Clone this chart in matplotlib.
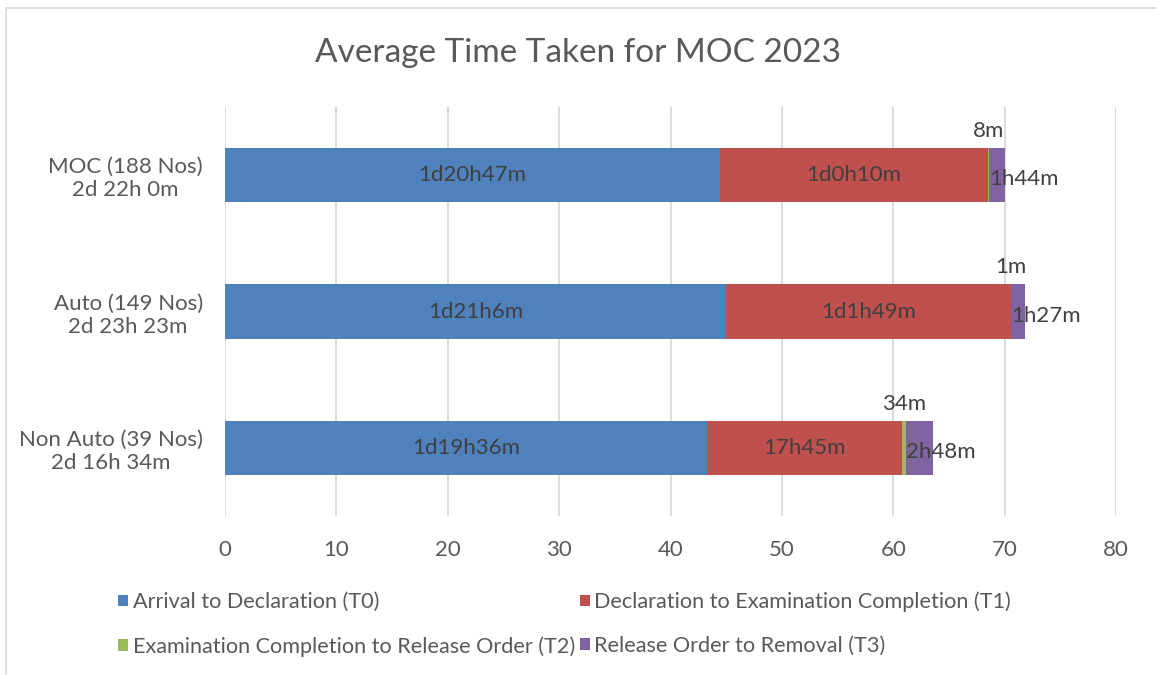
import matplotlib
matplotlib.use("Agg")
import matplotlib.pyplot as plt
from matplotlib.patches import Patch, Rectangle

plt.rcParams['font.family'] = ['Lato', 'DejaVu Sans']

# Data (hours)
categories = ["MOC (188 Nos)\n2d 22h 0m", "Auto (149 Nos)\n2d 23h 23m", "Non Auto (39 Nos)\n2d 16h 34m"]
t0 = [44.43, 45.0, 43.3]
t1 = [24.07, 25.53, 17.5]
t2 = [0.13, 0.02, 0.35]
t3 = [1.37, 1.3, 2.45]
t0_labels = ["1d20h47m", "1d21h6m", "1d19h36m"]
t1_labels = ["1d0h10m", "1d1h49m", "17h45m"]
t2_labels = ["8m", "1m", "34m"]
t3_labels = ["1h44m", "1h27m", "2h48m"]
series_names = ["Arrival to Declaration (T0)", "Declaration to Examination Completion (T1)",
                "Examination Completion to Release Order (T2)", "Release Order to Removal (T3)"]
colors = ["#4F81BD", "#C0504D", "#9BBB59", "#8064A2"]
xticks = [0, 10, 20, 30, 40, 50, 60, 70, 80]

TEXT = "#404040"
AXIS_TEXT = "#595959"
FS = 16

fig = plt.figure(figsize=(11.56, 6.75), dpi=100)
ax = fig.add_axes([225 / 1156, 1 - 516 / 675, (1116 - 225) / 1156, (516 - 107) / 675])

# chart border
fig.patches.append(Rectangle((6 / 1156, -0.05), 1.2, 1 - 8 / 675 + 0.05, transform=fig.transFigure,
                             fill=False, edgecolor="#D9D9D9", linewidth=1.2))

y = list(range(len(categories)))
h = 0.4
left = [0.0] * len(y)
for vals, col in zip([t0, t1, t2, t3], colors):
    ax.barh(y, vals, height=h, left=left, color=col, zorder=3)
    left = [l + v for l, v in zip(left, vals)]

for i in y:
    ax.text(t0[i] / 2, i, t0_labels[i], ha="center", va="center", fontsize=FS, color=TEXT, zorder=4)
    ax.text(t0[i] + t1[i] / 2, i, t1_labels[i], ha="center", va="center", fontsize=FS, color=TEXT, zorder=4)
    x2 = t0[i] + t1[i] + t2[i] / 2
    ax.text(x2, i - h / 2 - 0.05, t2_labels[i], ha="center", va="bottom", fontsize=FS, color=TEXT, zorder=4)
    x3 = t0[i] + t1[i] + t2[i]
    ax.text(x3, i + 0.03, t3_labels[i], ha="left", va="center", fontsize=FS, color=TEXT, zorder=4)

ax.set_xlim(0, 80)
ax.set_ylim(2.5, -0.5)
ax.set_xticks(xticks)
ax.set_xticklabels([str(t) for t in xticks], fontsize=FS, color=AXIS_TEXT)
ax.set_yticks(y)
ax.set_yticklabels(categories, fontsize=FS, color=AXIS_TEXT, ha="right", multialignment="center")
ax.tick_params(axis="y", length=0, pad=16)
ax.tick_params(axis="x", length=0, pad=17)
ax.grid(axis="x", color="#D9D9D9", linewidth=1.3, zorder=0)
for s in ax.spines.values():
    s.set_visible(False)

fig.text(0.5, 1 - 53 / 675, "Average Time Taken for MOC 2023", ha="center", va="center",
         fontsize=24, color=AXIS_TEXT)

# legend filled column-wise, so order handles to read row-wise like the reference
order = [0, 2, 1, 3]
handles = [Patch(facecolor=colors[k], edgecolor="none") for k in order]
fig.legend(handles, [series_names[k] for k in order], loc="center left",
           bbox_to_anchor=(99 / 1156, 1 - 624 / 675),
           ncol=2, frameon=False, fontsize=15.6, labelcolor=AXIS_TEXT,
           handlelength=0.45, handleheight=0.45, handletextpad=0.2, columnspacing=0.25,
           labelspacing=1.1)

fig.savefig("out.png", dpi=100)
